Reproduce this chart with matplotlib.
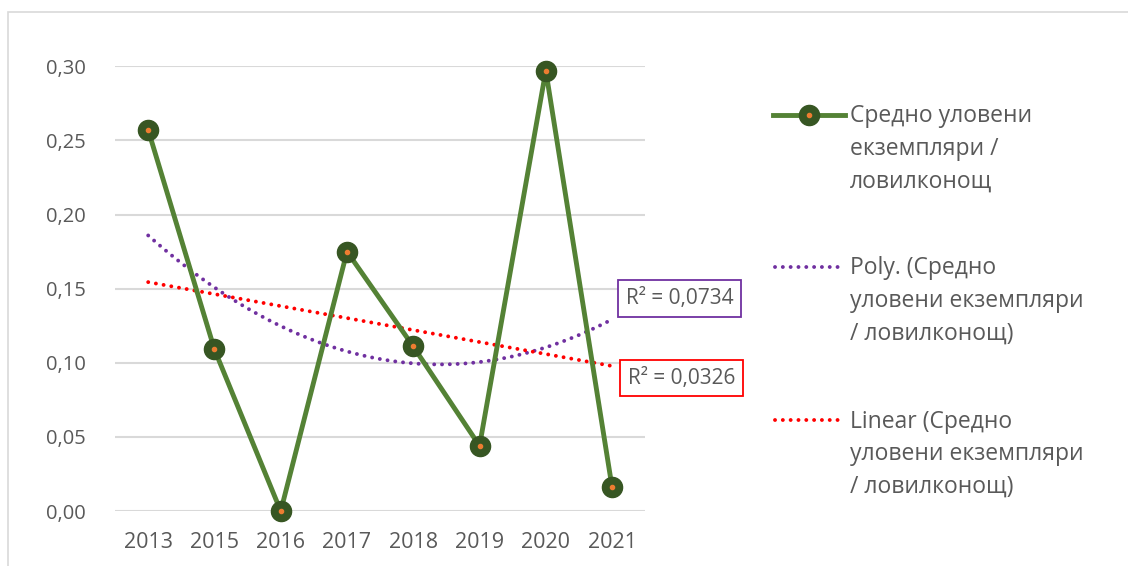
import numpy as np
import matplotlib
matplotlib.use("Agg")
import matplotlib.pyplot as plt
from matplotlib.patches import Rectangle
from matplotlib.lines import Line2D

plt.rcParams['font.family'] = ['Open Sans', 'DejaVu Sans']

# data
years = ["2013", "2015", "2016", "2017", "2018", "2019", "2020", "2021"]
catch_avg = [0.257, 0.109, 0.000, 0.175, 0.111, 0.044, 0.297, 0.016]
r2_poly = "0,0734"
r2_linear = "0,0326"

series_name = ["Средно уловени", "екземпляри /", "ловилконощ"]
poly_name = ["Poly. (Средно", "уловени екземпляри", "/ ловилконощ)"]
lin_name = ["Linear (Средно", "уловени екземпляри", "/ ловилконощ)"]

text_col = "#595959"
green = "#548235"
dark_green = "#375623"
orange = "#ED7D31"
purple = "#7030A0"
red = "#FF0000"

W, H = 1128, 566
fig = plt.figure(figsize=(W / 100, H / 100), dpi=100)
ax = fig.add_axes([0.102, 0.097, 0.470, 0.786])

# chart border like excel
fig.patches.append(Rectangle((8 / W, -0.1), 1.2, 1 - 12 / H + 0.1,
                             transform=fig.transFigure, fill=False,
                             edgecolor="#d9d9d9", lw=1.2))

x = np.arange(len(years))
y = np.array(catch_avg)

# trendlines (excel uses x = 1..n)
xe = x + 1
xs = np.linspace(0, len(years) - 1, 200)
lin = np.polyfit(xe, y, 1)
poly = np.polyfit(xe, y, 2)

dot = (0, (0.01, 2.0))
ax.plot(xs, np.polyval(poly, xs + 1), color=purple, lw=2.8,
        linestyle=dot, dash_capstyle="round", zorder=2)
ax.plot(xs, np.polyval(lin, xs + 1), color=red, lw=2.8,
        linestyle=dot, dash_capstyle="round", zorder=2)

ax.plot(x, y, color=green, lw=3.5, marker="o", markersize=14.5,
        markerfacecolor=dark_green, markeredgecolor=dark_green,
        zorder=3, clip_on=False)
ax.plot(x, y, linestyle="none", marker="o", markersize=3,
        color=orange, zorder=4, clip_on=False)

ax.set_xlim(-0.5, len(years) - 0.5)
ax.set_ylim(0, 0.30)
yt = np.arange(0, 0.301, 0.05)
ax.set_yticks(yt)
ax.set_yticklabels([f"{v:.2f}".replace(".", ",") for v in yt])
ax.set_xticks(x)
ax.set_xticklabels(years)
ax.tick_params(length=0, colors=text_col)
ax.tick_params(axis="x", labelsize=15.5, pad=15)
ax.tick_params(axis="y", labelsize=14.5, pad=21)
for s in ax.spines.values():
    s.set_visible(False)
ax.grid(axis="y", color="#d9d9d9", lw=1.5)
ax.set_axisbelow(True)

# R² labels
ax.text(8.02, 0.1436, "R² = " + r2_poly, fontsize=15, color=text_col,
        va="center", ha="center",
        bbox=dict(boxstyle="square,pad=0.38", fc="white", ec=purple, lw=1.3))
ax.text(8.05, 0.0897, "R² = " + r2_linear, fontsize=15, color=text_col,
        va="center", ha="center",
        bbox=dict(boxstyle="square,pad=0.38", fc="white", ec=red, lw=1.3))

# legend drawn by hand so the key sits on the first text line (excel style)
def fx(px):
    return px / W


def fy(py):
    return 1 - py / H


entries = [(series_name, 115), (poly_name, 267), (lin_name, 420)]
fig.add_artist(Line2D([fx(773), fx(845)], [fy(115), fy(115)], color=green, lw=3.5))
fig.add_artist(Line2D([fx(809)], [fy(115)], marker="o", markersize=14.5,
                      color=dark_green))
fig.add_artist(Line2D([fx(809)], [fy(115)], marker="o", markersize=3,
                      color=orange))
fig.add_artist(Line2D([fx(775), fx(843)], [fy(267), fy(267)], color=purple,
                      lw=2.8, linestyle=dot, dash_capstyle="round"))
fig.add_artist(Line2D([fx(775), fx(843)], [fy(420), fy(420)], color=red,
                      lw=2.8, linestyle=dot, dash_capstyle="round"))

for lines, ky in entries:
    for i, line in enumerate(lines):
        fig.text(fx(850), fy(ky + 7.5 + 32.5 * i), line, fontsize=16.5,
                 color=text_col, va="baseline", ha="left")

fig.savefig("out.png", dpi=100)
